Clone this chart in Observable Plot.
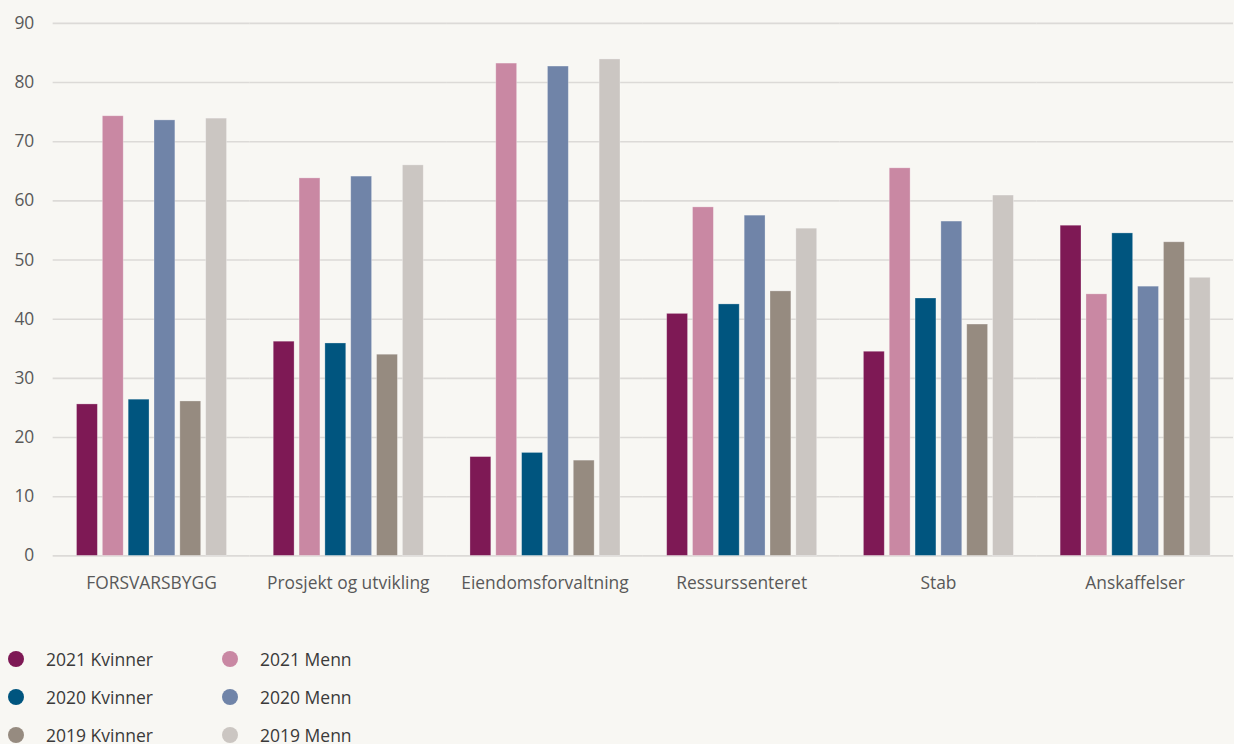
<!DOCTYPE html>
<html>
<head>
<meta charset="utf-8">
<script src="https://cdn.jsdelivr.net/npm/d3@7"></script>
<script src="https://cdn.jsdelivr.net/npm/@observablehq/plot@0.6"></script>
<style>
  html, body { margin:0; padding:0; background:#f8f7f3; overflow:hidden; width:1234px; height:744px; }
  #chart { position:absolute; left:0; top:0; }
  #legend { position:absolute; left:0; top:0; width:1234px; height:744px; font-family:"Open Sans", sans-serif; font-size:17.5px; color:#3a3a3a; }
  .item { position:absolute; display:flex; align-items:center; white-space:nowrap; }
  .dot { width:16px; height:16px; border-radius:50%; margin-right:22px; }
</style>
</head>
<body>
<div id="chart"></div>
<div id="legend"></div>
<script>
const groups = ["FORSVARSBYGG", "Prosjekt og utvikling", "Eiendomsforvaltning", "Ressurssenteret", "Stab", "Anskaffelser"];
const series = ["2021 Kvinner", "2021 Menn", "2020 Kvinner", "2020 Menn", "2019 Kvinner", "2019 Menn"];
const colors = ["#7e1955", "#c988a3", "#00557f", "#7084a8", "#968b80", "#cbc6c2"];
const yTicks = [0, 10, 20, 30, 40, 50, 60, 70, 80, 90];

const kvinner2021 = [25.6, 36.2, 16.7, 40.9, 34.5, 55.8];
const menn2021    = [74.3, 63.8, 83.2, 58.9, 65.5, 44.2];
const kvinner2020 = [26.4, 35.9, 17.4, 42.5, 43.5, 54.5];
const menn2020    = [73.6, 64.1, 82.7, 57.5, 56.5, 45.5];
const kvinner2019 = [26.1, 34.0, 16.1, 44.7, 39.1, 53.0];
const menn2019    = [73.9, 66.0, 83.9, 55.3, 60.9, 47.0];

const seriesValues = [kvinner2021, menn2021, kvinner2020, menn2020, kvinner2019, menn2019];
const data = [];
groups.forEach((g, gi) => {
  series.forEach((s, si) => data.push({group: g, series: s, value: seriesValues[si][gi]}));
});

const chart = Plot.plot({
  width: 1242,
  height: 599,
  marginLeft: 51,
  marginRight: 0,
  marginTop: 23,
  marginBottom: 40,
  style: {background: "transparent", fontFamily: "Open Sans, sans-serif", fontSize: "17.5px", color: "#595959"},
  fx: {domain: groups, padding: 0, label: null},
  x: {domain: series, paddingInner: 0.21, paddingOuter: 0.85, axis: null},
  y: {domain: [0, 90], label: null},
  color: {domain: series, range: colors},
  marks: [
    Plot.gridY(yTicks, {stroke: "#dcdad7", strokeOpacity: 1, strokeWidth: 1.6}),
    Plot.axisY(yTicks, {tickSize: 0, tickPadding: 19, label: null, fill: "#595959"}),
    Plot.axisFx({anchor: "bottom", tickSize: 0, tickPadding: 21, label: null, fill: "#595959"}),
    Plot.barY(data, {fx: "group", x: "series", y: "value", fill: "series", stroke: "#ffffff", strokeOpacity: 0.35, strokeWidth: 0.8})
  ]
});
document.getElementById("chart").appendChild(chart);

const legend = document.getElementById("legend");
const colX = [8, 222];
const rowY = [659, 697, 735];
series.forEach((s, i) => {
  const col = i % 2, row = Math.floor(i / 2);
  const el = document.createElement("div");
  el.className = "item";
  el.style.left = colX[col] + "px";
  el.style.top = (rowY[row] - 12) + "px";
  el.style.height = "24px";
  const dot = document.createElement("span");
  dot.className = "dot";
  dot.style.background = colors[i];
  const t = document.createElement("span");
  t.textContent = s;
  el.appendChild(dot);
  el.appendChild(t);
  legend.appendChild(el);
});
</script>
</body>
</html>
